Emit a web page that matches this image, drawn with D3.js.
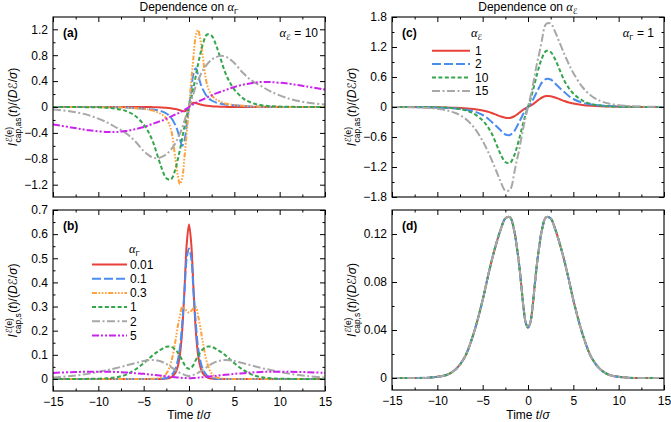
<!DOCTYPE html>
<html>
<head>
<meta charset="utf-8">
<script src="https://cdn.jsdelivr.net/npm/d3@7"></script>
<style>
body { margin: 0; background: #fff; }
svg { display: block; }
text { font-family: "Liberation Sans", Arial, sans-serif; fill: #000; }
.scr { font-family: "DejaVu Sans", "Noto Sans", sans-serif; font-style: normal; }
</style>
</head>
<body>
<svg id="chart" width="671" height="422"></svg>
<script>
// time axis shared by every curve (t / sigma)
const timePoints = [-15,-13,-11,-9,-8,-7,-6,-5,-4.5,-4,-3.5,-3,-2.5,-2,-1.5,-1.25,-1,-0.75,-0.5,-0.25,0,0.25,0.5,0.75,1,1.25,1.5,2,2.5,3,3.5,4,4.5,5,6,7,8,9,11,13,15];

// panel (a): antisymmetric current, alpha_E = 10, one curve per alpha_Gamma
const asymG001 = [0,0,0,0,0,0,0,-0.001,-0.001,-0.002,-0.003,-0.006,-0.011,-0.02,-0.032,-0.04,-0.05,-0.06,-0.065,-0.05,0,0.05,0.065,0.06,0.05,0.04,0.032,0.02,0.011,0.006,0.003,0.002,0.001,0.001,0,0,0,0,0,0,0];
const asymG01 = [0,0,-0.0005,-0.002,-0.004,-0.008,-0.015,-0.026,-0.032,-0.04,-0.05,-0.068,-0.1,-0.16,-0.28,-0.37,-0.5,-0.6,-0.52,-0.27,0,0.27,0.52,0.6,0.5,0.37,0.28,0.16,0.1,0.068,0.05,0.04,0.032,0.026,0.015,0.008,0.004,0.002,0.0005,0,0];
const asymG03 = [0,0,-0.001,-0.003,-0.005,-0.01,-0.018,-0.03,-0.04,-0.055,-0.08,-0.115,-0.18,-0.34,-0.8,-1.04,-1.19,-1.1,-0.78,-0.4,0,0.4,0.78,1.1,1.19,1.04,0.8,0.34,0.18,0.115,0.08,0.055,0.04,0.03,0.018,0.01,0.005,0.003,0.001,0,0];
const asymG1 = [0,-0.001,-0.003,-0.012,-0.028,-0.06,-0.13,-0.27,-0.38,-0.53,-0.74,-0.95,-1.1,-1.12,-0.96,-0.82,-0.66,-0.48,-0.3,-0.14,0,0.14,0.3,0.48,0.66,0.82,0.96,1.12,1.1,0.95,0.74,0.53,0.38,0.27,0.13,0.06,0.028,0.012,0.003,0.001,0];
const asymG2 = [-0.038,-0.068,-0.13,-0.24,-0.32,-0.4,-0.52,-0.68,-0.74,-0.78,-0.79,-0.77,-0.73,-0.66,-0.56,-0.49,-0.41,-0.32,-0.21,-0.1,0,0.1,0.21,0.32,0.41,0.49,0.56,0.66,0.73,0.77,0.79,0.78,0.74,0.68,0.52,0.4,0.32,0.24,0.13,0.068,0.038];
const asymG5 = [-0.27,-0.315,-0.36,-0.385,-0.386,-0.372,-0.345,-0.31,-0.285,-0.26,-0.235,-0.21,-0.18,-0.15,-0.115,-0.1,-0.085,-0.065,-0.045,-0.025,0,0.025,0.045,0.065,0.085,0.1,0.115,0.15,0.18,0.21,0.235,0.26,0.285,0.31,0.345,0.372,0.386,0.385,0.36,0.315,0.27];

// panel (b): symmetric current, one curve per alpha_Gamma
const symG001 = [0,0,0,0,0,0,0,0,0,0,0,0,0.0015,0.006,0.025,0.05,0.1,0.2,0.37,0.56,0.64,0.56,0.37,0.2,0.1,0.05,0.025,0.006,0.0015,0,0,0,0,0,0,0,0,0,0,0,0];
const symG01 = [0,0,0,0,0,0,0,0,0,0,0,0.001,0.004,0.013,0.042,0.075,0.13,0.23,0.36,0.5,0.54,0.5,0.36,0.23,0.13,0.075,0.042,0.013,0.004,0.001,0,0,0,0,0,0,0,0,0,0,0];
const symG03 = [0,0,0,0,0,0,0,0,0,0.001,0.002,0.007,0.022,0.066,0.157,0.215,0.262,0.298,0.293,0.282,0.275,0.282,0.293,0.298,0.262,0.215,0.157,0.066,0.022,0.007,0.002,0.001,0,0,0,0,0,0,0,0,0];
const symG1 = [0,0,0.0003,0.0025,0.007,0.017,0.037,0.065,0.082,0.098,0.112,0.124,0.133,0.134,0.122,0.11,0.096,0.078,0.059,0.046,0.042,0.046,0.059,0.078,0.096,0.11,0.122,0.134,0.133,0.124,0.112,0.098,0.082,0.065,0.037,0.017,0.007,0.0025,0.0003,0,0];
const symG2 = [0.006,0.012,0.022,0.037,0.045,0.055,0.065,0.074,0.077,0.078,0.076,0.071,0.062,0.05,0.037,0.031,0.025,0.021,0.017,0.014,0.012,0.014,0.017,0.021,0.025,0.031,0.037,0.05,0.062,0.071,0.076,0.078,0.077,0.074,0.065,0.055,0.045,0.037,0.022,0.012,0.006];
const symG5 = [0.025,0.028,0.03,0.03,0.029,0.027,0.024,0.021,0.019,0.017,0.015,0.013,0.011,0.009,0.007,0.006,0.005,0.004,0.004,0.003,0.003,0.003,0.004,0.004,0.005,0.006,0.007,0.009,0.011,0.013,0.015,0.017,0.019,0.021,0.024,0.027,0.029,0.03,0.03,0.028,0.025];

// panel (c): antisymmetric current, alpha_Gamma = 1, one curve per alpha_E (alpha_E = 10 is asymG1)
const asymE1 = [0,-0.001,-0.003,-0.008,-0.014,-0.024,-0.04,-0.068,-0.09,-0.12,-0.155,-0.19,-0.215,-0.22,-0.185,-0.155,-0.12,-0.085,-0.05,-0.025,0,0.025,0.05,0.085,0.12,0.155,0.185,0.22,0.215,0.19,0.155,0.12,0.09,0.068,0.04,0.024,0.014,0.008,0.003,0.001,0];
const asymE2 = [0,-0.002,-0.006,-0.018,-0.03,-0.05,-0.085,-0.16,-0.22,-0.3,-0.38,-0.47,-0.55,-0.56,-0.48,-0.4,-0.31,-0.22,-0.13,-0.06,0,0.06,0.13,0.22,0.31,0.4,0.48,0.56,0.55,0.47,0.38,0.3,0.22,0.16,0.085,0.05,0.03,0.018,0.006,0.002,0];
const asymE15 = [-0.002,-0.006,-0.02,-0.065,-0.12,-0.22,-0.4,-0.68,-0.86,-1.06,-1.28,-1.5,-1.67,-1.66,-1.3,-1.08,-0.88,-0.64,-0.4,-0.19,0,0.19,0.4,0.64,0.88,1.08,1.3,1.66,1.67,1.5,1.28,1.06,0.86,0.68,0.4,0.22,0.12,0.065,0.02,0.006,0.002];

// panel (d): symmetric current, alpha_Gamma = 1, identical for every alpha_E
const symE = symG1;

const alphaGammaLabels = ["0.01", "0.1", "0.3", "1", "2", "5"];
const alphaELabels = ["1", "2", "10", "15"];

const xMajorTicks = [-15, -10, -5, 0, 5, 10, 15];
const xMinorTicks = [-12.5, -7.5, -2.5, 2.5, 7.5, 12.5];
const yTicksA = [-1.2, -0.8, -0.4, 0, 0.4, 0.8, 1.2];
const yMinorA = [-1.0, -0.6, -0.2, 0.2, 0.6, 1.0];
const yTicksB = [0, 0.1, 0.2, 0.3, 0.4, 0.5, 0.6, 0.7];
const yMinorB = [0.05, 0.15, 0.25, 0.35, 0.45, 0.55, 0.65];
const yTicksC = [-1.8, -1.2, -0.6, 0, 0.6, 1.2, 1.8];
const yMinorC = [-1.5, -0.9, -0.3, 0.3, 0.9, 1.5];
const yTicksD = [0, 0.04, 0.08, 0.12];
const yMinorD = [0.02, 0.06, 0.1];

// line styles
const red = { color: "#e8413a", dash: null };
const blue = { color: "#4a8cf0", dash: "9,3" };
const orange = { color: "#ffa23c", dash: "5,1.6,1.6,1.6,1.6,1.6,1.6,1.6" };
const green = { color: "#33a54a", dash: "4,2.4" };
const gray = { color: "#a8a8a8", dash: "8,2.5,2,2.5" };
const magenta = { color: "#cc22ee", dash: "7,2,2,2,2,2" };
const gammaStyles = [red, blue, orange, green, gray, magenta];
const eStyles = [red, blue, green, gray];

const svg = d3.select("#chart");
svg.append("rect").attr("width", 671).attr("height", 422).attr("fill", "#fff");

const panels = [
  { name: "(a)", left: 53, top: 17, w: 272, h: 180, yDomain: [-1.39, 1.39], yTicks: yTicksA, yMinor: yMinorA, fmt: ".1f",
    series: [asymG001, asymG01, asymG03, asymG1, asymG2, asymG5], styles: gammaStyles, xLabels: false, sub: "cap,as" },
  { name: "(b)", left: 53, top: 210, w: 272, h: 181, yDomain: [-0.05, 0.7], yTicks: yTicksB, yMinor: yMinorB, fmt: ".1f",
    series: [symG001, symG01, symG03, symG1, symG2, symG5], styles: gammaStyles, xLabels: true, sub: "cap,s" },
  { name: "(c)", left: 392, top: 17, w: 272, h: 180, yDomain: [-1.8, 1.8], yTicks: yTicksC, yMinor: yMinorC, fmt: ".1f",
    series: [asymE1, asymE2, asymG1, asymE15], styles: eStyles, xLabels: false, sub: "cap,as" },
  { name: "(d)", left: 392, top: 210, w: 272, h: 180, yDomain: [-0.01, 0.14], yTicks: yTicksD, yMinor: yMinorD, fmt: ".2f",
    series: [symE, symE, symE, symE], styles: eStyles, xLabels: true, sub: "cap,s" }
];

function styleLine(sel, st) {
  sel.attr("stroke", st.color).attr("stroke-width", 2).attr("fill", "none");
  if (st.dash) sel.attr("stroke-dasharray", st.dash);
}

// alpha with a subscript (Gamma, or script E), appended into a text element
function alphaSub(t, subText) {
  t.append("tspan").attr("font-family", "Liberation Serif, serif").attr("font-style", "italic")
    .attr("font-size", 12.5).text("α");
  const s = t.append("tspan").attr("font-size", 8).attr("dy", 3).text(subText);
  if (subText === "ℰ") s.attr("class", "scr");
}

panels.forEach((p, pi) => {
  const g = svg.append("g").attr("transform", `translate(${p.left},${p.top})`);
  const x = d3.scaleLinear().domain([-15, 15]).range([0, p.w]);
  const y = d3.scaleLinear().domain(p.yDomain).range([p.h, 0]);

  g.append("clipPath").attr("id", "clip" + pi)
    .append("rect").attr("width", p.w).attr("height", p.h);

  const line = d3.line()
    .x(d => x(d[0]))
    .y(d => y(d[1]))
    .curve(d3.curveCatmullRom.alpha(0.5));

  const curves = g.append("g").attr("clip-path", `url(#clip${pi})`);
  p.series.forEach((vals, i) => {
    curves.append("path")
      .attr("d", line(d3.zip(timePoints, vals)))
      .call(styleLine, p.styles[i]);
  });

  // axes: ticks point inward on all four sides
  const yFmt = d => d === 0 ? "0" : d3.format(p.fmt)(d);
  const axes = [
    [d3.axisBottom(x).tickValues(xMajorTicks).tickSize(-5).tickPadding(6).tickFormat(p.xLabels ? d3.format("d") : ""), `translate(0,${p.h})`],
    [d3.axisBottom(x).tickValues(xMinorTicks).tickSize(-2.5).tickFormat(""), `translate(0,${p.h})`],
    [d3.axisTop(x).tickValues(xMajorTicks).tickSize(-5).tickFormat(""), null],
    [d3.axisTop(x).tickValues(xMinorTicks).tickSize(-2.5).tickFormat(""), null],
    [d3.axisLeft(y).tickValues(p.yTicks).tickSize(-5).tickPadding(5).tickFormat(yFmt), null],
    [d3.axisLeft(y).tickValues(p.yMinor).tickSize(-2.5).tickFormat(""), null],
    [d3.axisRight(y).tickValues(p.yTicks).tickSize(-5).tickFormat(""), `translate(${p.w},0)`],
    [d3.axisRight(y).tickValues(p.yMinor).tickSize(-2.5).tickFormat(""), `translate(${p.w},0)`]
  ];
  axes.forEach(([ax, tr]) => {
    const a = g.append("g").call(ax);
    if (tr) a.attr("transform", tr);
    a.select(".domain").remove();
    a.attr("font-family", null).attr("font-size", 12);
    a.selectAll("line").attr("stroke", "#000").attr("stroke-width", 1);
  });

  g.append("rect").attr("width", p.w).attr("height", p.h)
    .attr("fill", "none").attr("stroke", "#000").attr("stroke-width", 1.1);

  g.append("text").attr("x", 10).attr("y", 20)
    .attr("font-size", 12).attr("font-weight", "bold").text(p.name);

  // rotated y label: I^{E(e)}_{cap,..}(t)/(DE/sigma)
  const lx = p.left < 100 ? 17 : 356;
  const t = svg.append("text")
    .attr("transform", `translate(${lx},${p.top + p.h / 2}) rotate(-90)`)
    .attr("text-anchor", "middle").attr("font-size", 12);
  t.append("tspan").attr("font-style", "italic").text("I");
  const s1 = t.append("tspan").attr("class", "scr").attr("font-size", 8.5).attr("dy", -5.5).attr("dx", 0.5).text("ℰ");
  const s2 = t.append("tspan").attr("font-size", 8.5).text("(e)");
  const supW = s1.node().getComputedTextLength() + s2.node().getComputedTextLength();
  const sb = t.append("tspan").attr("font-size", 8.5).attr("dx", -supW).attr("dy", 9).text(p.sub);
  const subW = sb.node().getComputedTextLength();
  t.append("tspan").attr("dy", -3.5).attr("dx", Math.max(0, supW - subW) + 0.5).text("(");
  t.append("tspan").attr("font-style", "italic").text("t");
  t.append("tspan").text(")/(");
  t.append("tspan").attr("font-style", "italic").text("D");
  t.append("tspan").attr("class", "scr").text("ℰ");
  t.append("tspan").text("/");
  t.append("tspan").attr("font-style", "italic").text("σ");
  t.append("tspan").text(")");

  if (p.xLabels) {
    const xl = svg.append("text").attr("x", p.left + p.w / 2).attr("y", 419)
      .attr("text-anchor", "middle").attr("font-size", 12);
    xl.append("tspan").text("Time ");
    xl.append("tspan").attr("font-style", "italic").text("t");
    xl.append("tspan").text("/");
    xl.append("tspan").attr("font-style", "italic").text("σ");
  }
});

// column titles
const t1 = svg.append("text").attr("x", 189).attr("y", 11).attr("text-anchor", "middle").attr("font-size", 12);
t1.append("tspan").text("Dependence on ");
alphaSub(t1, "Γ");
const t2 = svg.append("text").attr("x", 528).attr("y", 11).attr("text-anchor", "middle").attr("font-size", 12);
t2.append("tspan").text("Dependence on ");
alphaSub(t2, "ℰ");

// fixed-parameter notes
const n1 = svg.append("text").attr("x", 318).attr("y", 37).attr("text-anchor", "end").attr("font-size", 12);
alphaSub(n1, "ℰ");
n1.append("tspan").attr("dy", -3).text(" = 10");
const n2 = svg.append("text").attr("x", 654).attr("y", 37).attr("text-anchor", "end").attr("font-size", 12);
alphaSub(n2, "Γ");
n2.append("tspan").attr("dy", -3).text(" = 1");

// legend (b)
const lg1 = svg.append("text").attr("x", 129).attr("y", 253).attr("font-size", 12);
alphaSub(lg1, "Γ");
alphaGammaLabels.forEach((lab, i) => {
  const yy = 264.5 + i * 14.2;
  svg.append("line").attr("x1", 92).attr("x2", 127).attr("y1", yy).attr("y2", yy).call(styleLine, gammaStyles[i]);
  svg.append("text").attr("x", 130).attr("y", yy + 4.3).attr("font-size", 12).text(lab);
});

// legend (c)
const lg2 = svg.append("text").attr("x", 471).attr("y", 37).attr("font-size", 12);
alphaSub(lg2, "ℰ");
alphaELabels.forEach((lab, i) => {
  const yy = 50.7 + i * 13.4;
  svg.append("line").attr("x1", 432).attr("x2", 470).attr("y1", yy).attr("y2", yy).call(styleLine, eStyles[i]);
  svg.append("text").attr("x", 475).attr("y", yy + 4.3).attr("font-size", 12).text(lab);
});
</script>
</body>
</html>
